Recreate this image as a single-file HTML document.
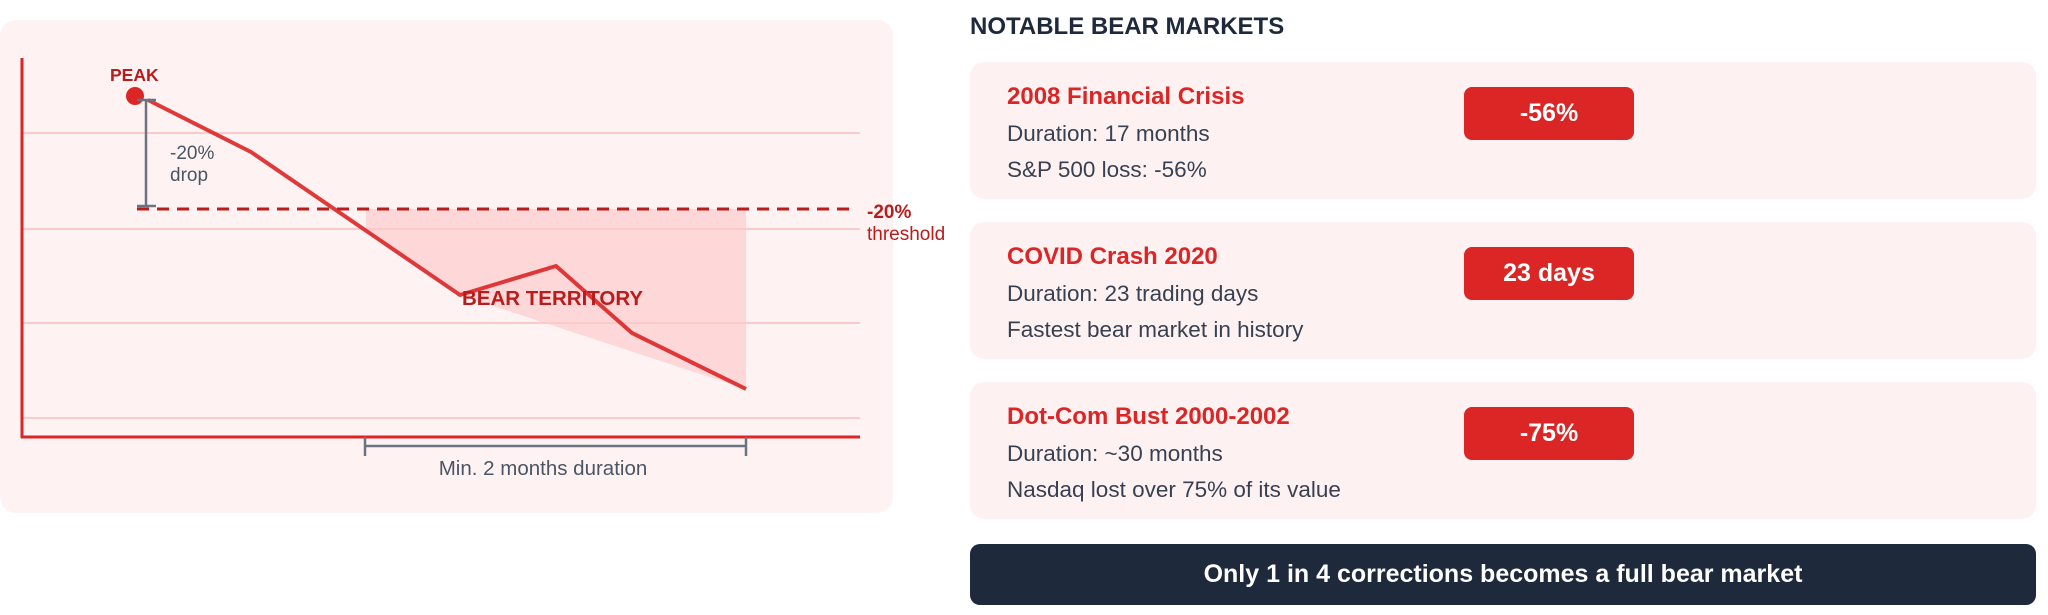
<!DOCTYPE html>
<html><head><meta charset="utf-8"><style>
body{margin:0;width:2048px;height:615px;background:#fff;font-family:"Liberation Sans",Arial,sans-serif;position:relative;overflow:hidden}
.panel{position:absolute;left:0;top:20px;width:893px;height:493px;background:#fef3f2;border-radius:16px}
svg{position:absolute;left:0;top:0}
.title{position:absolute;left:970px;top:13px;font-size:24px;font-weight:bold;color:#1e293b}
.card{position:absolute;left:970px;width:1066px;height:137px;background:#fef1f1;border-radius:14px}
.card .h{position:absolute;left:37px;top:21px;font-size:24px;font-weight:bold;color:#dc2626}
.card .l1{position:absolute;left:37px;top:59px;font-size:22.5px;color:#374151}
.card .l2{position:absolute;left:37px;top:95px;font-size:22.5px;color:#374151}
.badge{position:absolute;left:494px;top:25px;width:170px;height:53px;background:#dc2626;border-radius:8px;color:#fff;font-weight:bold;font-size:25px;text-align:center;line-height:53px}
.bar{position:absolute;left:970px;top:544px;width:1066px;height:61px;background:#1e293b;border-radius:10px;color:#fff;font-weight:bold;font-size:25px;text-align:center;line-height:61px}
</style></head><body>
<div class="panel"></div>
<svg width="960" height="520" font-family="Liberation Sans, Arial, sans-serif">
<g stroke="#fbcaca" stroke-width="2">
<line x1="22" y1="133" x2="860" y2="133"/><line x1="22" y1="229" x2="860" y2="229"/>
<line x1="22" y1="323" x2="860" y2="323"/><line x1="22" y1="418" x2="860" y2="418"/>
</g>
<polygon points="366,209 746,209 746,389 490,305 460,295 366,231" fill="#fecaca" opacity="0.65"/>
<line x1="22" y1="58" x2="22" y2="438" stroke="#dc2626" stroke-width="3"/>
<line x1="21" y1="437" x2="860" y2="437" stroke="#dc2626" stroke-width="3"/>
<line x1="137" y1="209" x2="852" y2="209" stroke="#b91c1c" stroke-width="3" stroke-dasharray="12,8"/>
<polyline points="148,100 251,152 460,295 556,266 632,333 746,389" fill="none" stroke="#dc2626" stroke-width="4" stroke-linejoin="round" opacity="0.9"/>
<circle cx="135" cy="96" r="9" fill="#dc2626"/>
<g stroke="#6b7280" stroke-width="2.5"><line x1="146" y1="100" x2="146" y2="206"/><line x1="137" y1="100" x2="156" y2="100"/><line x1="137" y1="206" x2="156" y2="206"/>
<line x1="365" y1="446" x2="746" y2="446"/><line x1="365" y1="437" x2="365" y2="456"/><line x1="746" y1="437" x2="746" y2="456"/></g>
<text x="110" y="81" font-size="17.5" font-weight="bold" fill="#b91c1c">PEAK</text>
<text x="170" y="159" font-size="19" fill="#4b5563">-20%</text>
<text x="170" y="181" font-size="19" fill="#4b5563">drop</text>
<text x="867" y="218" font-size="19" font-weight="bold" fill="#b91c1c">-20%</text>
<text x="867" y="240" font-size="19" fill="#b91c1c">threshold</text>
<text x="462" y="305" font-size="20.5" font-weight="bold" fill="#b91c1c">BEAR TERRITORY</text>
<text x="543" y="475" font-size="20.5" fill="#4b5563" text-anchor="middle">Min. 2 months duration</text>
</svg>
<div class="title">NOTABLE BEAR MARKETS</div>
<div class="card" style="top:62px"><div class="h">2008 Financial Crisis</div><div class="l1">Duration: 17 months</div><div class="l2">S&amp;P 500 loss: -56%</div><div class="badge">-56%</div></div>
<div class="card" style="top:222px"><div class="h">COVID Crash 2020</div><div class="l1">Duration: 23 trading days</div><div class="l2">Fastest bear market in history</div><div class="badge">23 days</div></div>
<div class="card" style="top:382px"><div class="h">Dot-Com Bust 2000-2002</div><div class="l1">Duration: ~30 months</div><div class="l2">Nasdaq lost over 75% of its value</div><div class="badge">-75%</div></div>
<div class="bar">Only 1 in 4 corrections becomes a full bear market</div>
</body></html>
